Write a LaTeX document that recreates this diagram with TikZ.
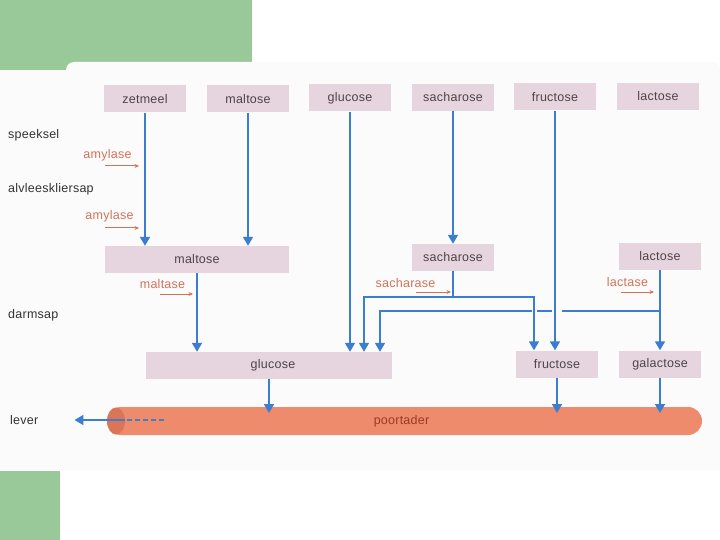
\documentclass[tikz,border=0pt]{standalone}
\usepackage{fontspec}
\setmainfont[LetterSpace=2]{Liberation Sans}
\usetikzlibrary{arrows.meta,calc,positioning,shapes.misc}
\definecolor{SlideGreen}{HTML}{99C999}
\definecolor{PanelGrey}{HTML}{FBFBFB}
\definecolor{BoxPink}{HTML}{E6D5DE}
\definecolor{BoxInk}{HTML}{4D4448}
\definecolor{FlowBlue}{HTML}{3B7DCF}
\definecolor{EnzRed}{HTML}{D0735A}
\definecolor{TubeRed}{HTML}{EE8B6C}
\definecolor{TubeDark}{HTML}{DC7558}
\definecolor{TubeInk}{HTML}{9A3B25}

\begin{document}
\begin{tikzpicture}[
      x=1pt,y=-1pt,
      font=\fontsize{12.5}{15}\selectfont,
      box/.style={fill=BoxPink,text=BoxInk,minimum width=82pt,minimum height=27pt,inner sep=0pt},
      arr/.style={-{Triangle[length=9pt,width=10pt]},line width=1.7pt,FlowBlue},
      pipe/.style={line width=1.7pt,FlowBlue},
      enz/.style={-{Stealth[length=4.5pt,width=4pt]},line width=1pt,EnzRed},
      lbl/.style={text=black!80,inner sep=0pt,anchor=west},
      enzlbl/.style={text=EnzRed,inner sep=0pt}
    ]
      \useasboundingbox (0,0) rectangle (720,540);
      % slide background
      \fill[SlideGreen] (0,0) rectangle (252,70);
      \fill[SlideGreen] (0,471) rectangle (60,540);
      \fill[PanelGrey] (0,70) rectangle (720,470);
      \fill[PanelGrey,rounded corners=8pt] (66,62) rectangle (720,470);

      % food
      \node[box] (zetmeel) at (145,99) {zetmeel};
      \node[box] (maltose) at (248,99) {maltose};
      \node[box] (glucose) at (350,98) {glucose};
      \node[box] (sacharose) at (453,97.5) {sacharose};
      \node[box] (fructose) at (555,97) {fructose};
      \node[box] (lactose) at (658,96.5) {lactose};

      % intermediate
      \node[box,minimum width=184pt] (maltoseM) at (197,259.5) {maltose};
      \node[box] (sacharoseM) at (453,257.5) {sacharose};
      \node[box] (lactoseM) at (660,256.5) {lactose};

      % end products
      \node[box,minimum width=246pt] (glucoseB) at (269,365.5) {\hspace*{8pt}glucose};
      \node[box] (fructoseB) at (557,364) {fructose};
      \node[box] (galactoseB) at (660,364) {galactose};

      % poortader
      \node[rounded rectangle,fill=TubeRed,text=TubeInk,minimum width=595pt,minimum height=28pt,inner sep=0pt] (poortader) at (404.5,421) {poortader\hspace*{6pt}};
      \fill[TubeDark] (116,421) ellipse (9 and 13.5);

      % juices
      \node[lbl] (speeksel) at (8,135) {speeksel};
      \node[lbl] (alvlees) at (8,189) {alvleeskliersap};
      \node[lbl] (darmsap) at (8,315) {darmsap};
      \node[lbl] (lever) at (10,420) {lever};

      % enzymes
      \node[enzlbl] (amy1) at (107.5,155) {amylase};
      \node[enzlbl] (amy2) at (109.5,216) {amylase};
      \node[enzlbl] (maltase) at (162.5,284) {maltase};
      \node[enzlbl] (sacharase) at (405.5,283) {sacharase};
      \node[enzlbl] (lactase) at (627.5,282) {lactase};
      \draw[enz] (amy1.center) ++(-2.5,11) -- ++(34,0);
      \draw[enz] (amy2.center) ++(-4.5,12) -- ++(34,0);
      \draw[enz] (maltase.center) ++(-2.5,10) -- ++(33,0);
      \draw[enz] (sacharase.center) ++(10.5,9) -- ++(35,0);
      \draw[enz] (lactase.center) ++(-6.5,10) -- ++(33,0);

      % digestion
      \draw[arr] (zetmeel) -- (zetmeel |- maltoseM.north);
      \draw[arr] (maltose) -- (maltose |- maltoseM.north);
      \draw[arr] (glucose) -- (glucose |- glucoseB.north);
      \draw[arr] (sacharose) -- (sacharoseM);
      \draw[arr] (fructose) -- (fructose |- fructoseB.north);
      \draw[arr] (maltoseM) -- (maltoseM |- glucoseB.north);

      \coordinate (sacsplit) at (sacharoseM |- 0,297);
      \coordinate (lacsplit) at (lactoseM |- 0,311);
      \draw[pipe] (sacharoseM) -- (sacsplit);
      \draw[arr] (sacsplit) -| (364,0 |- glucoseB.north);
      \draw[arr] (sacsplit) -| (534,0 |- fructoseB.north);
      \draw[arr] (lactoseM) -- (galactoseB);
      \draw[arr] (lacsplit) -- (562,311) (552,311) -- (537,311) (532,311) -| (380,0 |- glucoseB.north);

      % absorption
      \draw[arr,shorten >=8pt] (glucoseB) -- (glucoseB |- poortader.center);
      \draw[arr,shorten >=8pt] (fructoseB) -- (fructoseB |- poortader.center);
      \draw[arr,shorten >=8pt] (galactoseB) -- (galactoseB |- poortader.center);

      \coordinate (tubeout) at (164,420);
      \coordinate (tubeexit) at (125,420);
      \draw[FlowBlue!80!gray,line width=1.3pt,dash pattern=on 5pt off 3pt] (tubeout) -- (tubeexit);
      \draw[arr,shorten >=36pt] (tubeexit) -- (lever.east);
    \end{tikzpicture}
\end{document}
